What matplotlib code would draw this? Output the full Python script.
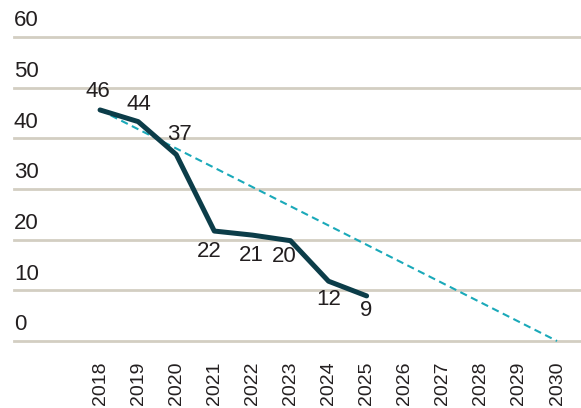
import matplotlib
matplotlib.use("Agg")
import matplotlib.pyplot as plt
import matplotlib.transforms as mtransforms

years = [2018, 2019, 2020, 2021, 2022, 2023, 2024, 2025]
values = [45.6, 43.3, 36.8, 21.7, 20.9, 19.8, 11.8, 8.9]
labels = ["46", "44", "37", "22", "21", "20", "12", "9"]
label_offsets = [(-2, 18), (1, 17), (3, 20), (-5, -20), (-1, -20), (-6, -16), (0, -18), (0, -15)]
trend_years = [2018, 2030]
trend_values = [45.6, 0]
all_years = list(range(2018, 2031))
yticks = [0, 10, 20, 30, 40, 50, 60]

DARK = "#0c3d49"
TEAL = "#1aa9b9"
GRID = "#d3cec2"
TEXT = "#231f20"
FONT = "Liberation Sans"

fig = plt.figure(figsize=(5.81, 4.08), dpi=100)
W, H = 581, 408
ax = fig.add_axes([14 / W, (H - 341) / H, 567 / W, 304 / H])
ax.set_xlim(2015.74, 2030.63)
ax.set_ylim(0, 60)
for s in ax.spines.values():
    s.set_visible(False)

trans = mtransforms.blended_transform_factory(ax.transAxes, ax.transData)
for y in yticks:
    ax.axhline(y, color=GRID, lw=2, zorder=1, clip_on=False)
    ax.annotate(str(y), (0, y), xycoords=trans, xytext=(0, 4), textcoords="offset points",
                ha="left", va="bottom", fontsize=16, family=FONT, color=TEXT)

ax.set_yticks([])
ax.set_xticks(all_years)
ax.set_xticklabels([str(y) for y in all_years], rotation=90, fontsize=14, family=FONT, color=TEXT)
ax.tick_params(axis="x", length=0, pad=15)

ax.plot(trend_years, trend_values, color=TEAL, lw=1.5, ls=(0, (3.5, 2.2)), zorder=2, clip_on=False)
ax.plot(years, values, color=DARK, lw=3.6, solid_capstyle="round", solid_joinstyle="round", zorder=3, clip_on=False)

for x, v, lab, (dx, dy) in zip(years, values, labels, label_offsets):
    ax.annotate(lab, (x, v), xytext=(dx * 0.72, dy * 0.72), textcoords="offset points",
                ha="center", va="center", fontsize=16, family=FONT, color=TEXT)

fig.savefig("out.png", dpi=100)
